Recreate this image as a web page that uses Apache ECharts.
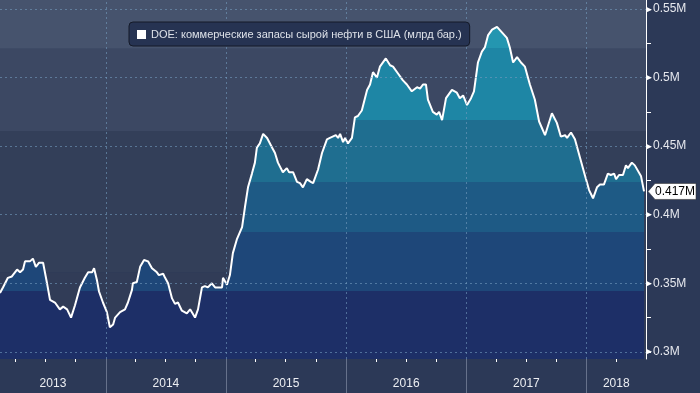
<!DOCTYPE html>
<html><head><meta charset="utf-8">
<script src="https://cdn.jsdelivr.net/npm/echarts@6/dist/echarts.min.js"></script>
<style>html,body{margin:0;padding:0;background:#2c3957;}#c{width:700px;height:393px;}</style>
</head><body><div id="c"></div>
<script>
const seriesName = 'DOE: коммерческие запасы сырой нефти в США (млрд бар.)';
const dates = ['2013-02-13','2013-02-22','2013-03-09','2013-03-21','2013-04-06','2013-04-15','2013-04-24','2013-04-30','2013-05-15','2013-05-24','2013-06-02','2013-06-12','2013-06-24','2013-07-06','2013-07-15','2013-07-30','2013-08-14','2013-08-24','2013-09-05','2013-09-17','2013-09-29','2013-10-14','2013-10-29','2013-11-08','2013-11-20','2013-11-26','2013-12-05','2013-12-11','2013-12-23',
'2014-01-04','2014-01-13','2014-01-23','2014-01-29','2014-02-13','2014-02-28','2014-03-09','2014-03-21','2014-03-24','2014-04-05','2014-04-15','2014-04-27','2014-05-09','2014-05-21','2014-05-27','2014-06-05','2014-06-11','2014-06-24','2014-06-30','2014-07-09','2014-07-21','2014-07-30','2014-08-08','2014-08-20','2014-09-04','2014-09-14','2014-09-29','2014-10-08','2014-10-20','2014-10-29','2014-11-07','2014-11-19','2014-11-29','2014-12-05','2014-12-20','2014-12-23',
'2015-01-04','2015-01-13','2015-01-22','2015-02-03','2015-02-19','2015-02-28','2015-03-09','2015-03-21','2015-03-30','2015-04-05','2015-04-14','2015-04-24','2015-05-06','2015-05-21','2015-05-30','2015-06-08','2015-06-23','2015-07-05','2015-07-12','2015-07-24','2015-08-05','2015-08-14','2015-08-17','2015-08-23','2015-09-04','2015-09-16','2015-09-23','2015-10-08','2015-10-20','2015-10-29','2015-11-04','2015-11-13','2015-11-19','2015-12-01','2015-12-08','2015-12-14','2015-12-23','2015-12-29',
'2016-01-07','2016-01-19','2016-01-28','2016-02-06','2016-02-18','2016-03-05','2016-03-14','2016-03-23','2016-04-04','2016-04-13','2016-05-01','2016-05-14','2016-05-23','2016-06-07','2016-06-22','2016-07-04','2016-07-19','2016-08-04','2016-08-13','2016-08-22','2016-08-31','2016-09-06','2016-09-21','2016-10-03','2016-10-10','2016-10-19','2016-10-25','2016-10-31','2016-11-18','2016-12-03','2016-12-12','2016-12-22',
'2017-01-03','2017-01-15','2017-01-24','2017-02-05','2017-02-17','2017-02-26','2017-03-08','2017-03-20','2017-04-04','2017-04-19','2017-05-04','2017-05-13','2017-05-23','2017-06-04','2017-06-16','2017-06-28','2017-07-13','2017-07-28','2017-08-10','2017-08-28','2017-09-18','2017-10-03','2017-10-15','2017-10-28','2017-11-03','2017-11-15','2017-11-27','2017-12-12','2017-12-27',
'2018-01-09','2018-01-21','2018-02-02','2018-02-11','2018-02-23','2018-03-07','2018-03-16','2018-03-26','2018-04-01','2018-04-10','2018-04-22','2018-05-01','2018-05-07','2018-05-19','2018-05-28','2018-06-03','2018-06-16','2018-06-25'];
const values = [0.343,0.347,0.354,0.355,0.360,0.358,0.360,0.366,0.366,0.368,0.362,0.365,0.365,0.350,0.338,0.336,0.331,0.333,0.331,0.325,0.334,0.347,0.354,0.358,0.358,0.361,0.352,0.344,0.336,
0.329,0.318,0.320,0.325,0.329,0.331,0.336,0.345,0.350,0.351,0.362,0.367,0.366,0.361,0.361,0.358,0.356,0.357,0.354,0.350,0.339,0.335,0.336,0.330,0.328,0.331,0.325,0.331,0.347,0.348,0.347,0.350,0.347,0.348,0.347,0.354,
0.349,0.356,0.372,0.382,0.391,0.406,0.420,0.430,0.438,0.449,0.452,0.459,0.456,0.449,0.445,0.438,0.431,0.434,0.431,0.431,0.424,0.423,0.424,0.420,0.426,0.424,0.423,0.433,0.445,0.451,0.455,0.456,0.457,0.458,0.456,0.459,0.453,0.456,
0.452,0.456,0.471,0.472,0.476,0.491,0.495,0.504,0.500,0.508,0.514,0.509,0.508,0.503,0.498,0.495,0.490,0.493,0.492,0.495,0.495,0.484,0.475,0.473,0.475,0.469,0.469,0.485,0.491,0.489,0.485,0.487,
0.480,0.485,0.490,0.511,0.519,0.522,0.531,0.535,0.537,0.533,0.529,0.522,0.511,0.515,0.511,0.508,0.495,0.484,0.468,0.458,0.474,0.467,0.457,0.458,0.456,0.460,0.455,0.442,0.429,
0.418,0.412,0.420,0.422,0.422,0.430,0.429,0.430,0.426,0.429,0.429,0.436,0.434,0.438,0.436,0.437,0.428,0.417];
const yTickLabels = [0.3,0.35,0.4,0.45,0.5,0.55];
const yTickAll = [0.3,0.325,0.35,0.375,0.4,0.425,0.45,0.475,0.5,0.525,0.55];
const years = [2013,2014,2015,2016,2017,2018];
const xMinDate = '2013-02-13', xMaxDate = '2018-07-01';
const yMin = 0.2948, yMax = 0.5566;
// band boundaries [from, to, color]
const bgBands = [[0.521,yMax,'#46536d'],[0.461,0.521,'#3c4863'],[0.358,0.461,'#333f59'],[yMin,0.358,'#313c57']];
const fillBands = [[0.5216,1,'#2496b0'],[0.4691,0.5216,'#1e86a5'],[0.4239,0.4691,'#1f6e90'],[0.3874,0.4239,'#1e5a85'],[0.3444,0.3874,'#1e4779'],[0,0.3444,'#1d2f67']];

const T = s => Date.UTC(+s.slice(0, 4), +s.slice(5, 7) - 1, +s.slice(8, 10));
const xMin = T(xMinDate), xMax = T(xMaxDate);
const yearStarts = years.slice(1).map(y => T(y + '-01-01'));
const quarterTicks = [];
years.forEach(y => ['01','04','07','10'].forEach(m => { const t = T(y + '-' + m + '-01'); if (t > xMin && t < xMax) quarterTicks.push(t); }));
const yearMids = years.map(y => { const a = Math.max(xMin, T(y + '-01-01')), b = Math.min(xMax, T((y + 1) + '-01-01')); return (a + b) / 2; });
const data = dates.map((d, i) => [T(d), values[i]]);
const lastIdx = values.length - 1;
const FONT = 'Liberation Sans, Arial, sans-serif';

const chart = echarts.init(document.getElementById('c'));
const option = {
  backgroundColor: '#2c3957',
  animation: false,
  textStyle: { fontFamily: FONT },
  grid: { left: 0, right: 54, top: 0, bottom: 34, containLabel: false },
  legend: {
    z: 20,
    left: 129, top: 22, padding: [7, 8, 6, 8], itemWidth: 9, itemHeight: 9, itemGap: 6,
    backgroundColor: '#263352', borderColor: '#141a28', borderWidth: 1, borderRadius: 4,
    textStyle: { color: '#dde1e8', fontSize: 11, fontFamily: FONT },
    data: [{ name: seriesName, icon: 'rect', itemStyle: { color: '#ffffff' } }]
  },
  xAxis: [{
    type: 'value', min: xMin, max: xMax, scale: true,
    axisLine: { show: false },
    axisTick: { show: true, customValues: quarterTicks, length: 3, lineStyle: { color: '#ffffff', width: 1 } },
    axisLabel: { show: false },
    splitLine: { show: false }
  }, {
    type: 'value', min: xMin, max: xMax, scale: true, position: 'bottom',
    axisLine: { show: false },
    axisTick: { show: true, customValues: yearStarts, length: 34, lineStyle: { color: '#66718b', width: 1 } },
    axisLabel: { show: true, customValues: yearMids, margin: 19, color: '#eceef2', fontSize: 12, fontFamily: FONT,
      formatter: v => String(new Date(v).getUTCFullYear()) },
    splitLine: { show: false }
  }],
  yAxis: {
    type: 'value', position: 'right', min: yMin, max: yMax,
    axisLine: { show: true, lineStyle: { color: '#ffffff', width: 1 } },
    axisTick: { show: true, customValues: yTickAll, length: 5, lineStyle: { color: '#ffffff' } },
    axisLabel: { show: true, customValues: yTickLabels, margin: -1, color: '#e6e8ee', fontSize: 12, fontFamily: FONT,
      formatter: v => '{t|\u25B6}' + v + 'M',
      rich: { t: { color: '#ffffff', fontSize: 9, padding: [0, 1, 0, 0] } } },
    splitLine: { show: false }
  },
  series: [{
    name: 'bg', type: 'line', data: [], z: 1, silent: true,
    markArea: { silent: true, data: bgBands.map(b => [{ yAxis: b[0], itemStyle: { color: b[2] } }, { yAxis: b[1] }]) }
  }, {
    name: seriesName, type: 'line', data: data, z: 3, showSymbol: false, symbol: 'none',
    itemStyle: { color: '#ffffff' },
    lineStyle: { color: '#ffffff', width: 2 },
    areaStyle: { color: '#1e5a85', opacity: 1 },
    markLine: {
      silent: true, symbol: 'none', label: { show: false },
      lineStyle: { color: 'rgba(115,155,190,0.6)', type: [2, 3], width: 1 },
      data: yTickLabels.map(v => ({ yAxis: v })).concat(yearStarts.map(t => ({ xAxis: t })))
    },
    markPoint: {
      symbol: 'path://M0,8L7,0L48,0L48,16L7,16Z', symbolSize: [48, 16], symbolKeepAspect: false, symbolOffset: [28, 0],
      itemStyle: { color: '#ffffff', borderColor: '#333', borderWidth: 0.5 },
      label: { show: true, color: '#000000', fontSize: 12, fontFamily: FONT, offset: [3, 0], formatter: p => p.value + 'M' },
      data: [{ coord: data[lastIdx], value: values[lastIdx] }]
    }
  }]
};
chart.setOption(option);
// build hard-stop gradient in pixel space from band values
const H = 393;
const stops = [];
const sorted = fillBands.slice().sort((a, b) => b[1] - a[1]);
sorted.forEach(b => {
  const yTop = Math.max(0, chart.convertToPixel({ yAxisIndex: 0 }, Math.min(b[1], yMax)));
  const yBot = Math.min(H, chart.convertToPixel({ yAxisIndex: 0 }, Math.max(b[0], yMin)));
  stops.push({ offset: Math.max(0, Math.min(1, yTop / H)), color: b[2] });
  stops.push({ offset: Math.max(0, Math.min(1, yBot / H)), color: b[2] });
});
chart.setOption({ series: [{}, { areaStyle: { color: { type: 'linear', x: 0, y: 0, x2: 0, y2: H, global: true, colorStops: stops } } }] });
</script></body></html>
